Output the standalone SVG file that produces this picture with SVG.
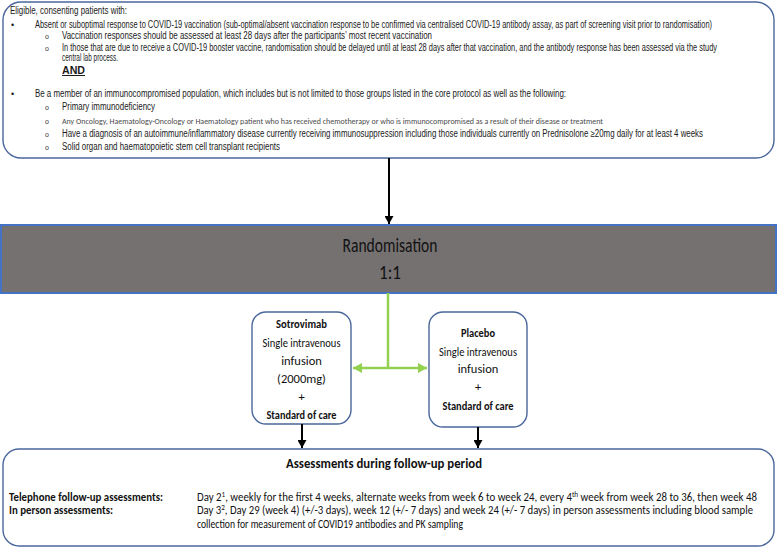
<svg xmlns="http://www.w3.org/2000/svg" width="777" height="549" viewBox="0 0 777 549">
<style>
.box{fill:#fff;stroke:#4a679c;stroke-width:1.4}
.t{font-family:"Liberation Sans Narrow","Liberation Sans",Arial,sans-serif;font-size:10px;fill:#1a1a1a}
.sm{font-family:Carlito,"Liberation Sans",Arial,sans-serif;font-size:8.5px;fill:#4a4a4a}
.b{font-family:"Liberation Sans",Arial,sans-serif;font-size:9px;fill:#1a1a1a}
.o{font-family:"Liberation Sans",Arial,sans-serif;font-size:7px;fill:#333}
.c{font-family:Carlito,"Liberation Sans",Arial,sans-serif;font-size:12.5px;fill:#111;text-anchor:middle}
.cb{font-family:Carlito,"Liberation Sans",Arial,sans-serif;font-size:12.5px;fill:#111;font-weight:bold;text-anchor:middle}
.r{font-family:Carlito,"Liberation Sans",Arial,sans-serif;font-size:20px;fill:#111;text-anchor:middle}
.h{font-family:Carlito,"Liberation Sans",Arial,sans-serif;font-size:14px;fill:#111;font-weight:bold}
.a{font-family:Carlito,"Liberation Sans",Arial,sans-serif;font-size:12px;fill:#111}
.ab{font-family:Carlito,"Liberation Sans",Arial,sans-serif;font-size:12px;fill:#111;font-weight:bold}
.blk{stroke:#000;stroke-width:2;fill:none}
.grn{stroke:#92d050;stroke-width:2.5;fill:none}
</style>
<defs>
<marker id="ah" markerUnits="userSpaceOnUse" markerWidth="9" markerHeight="9" refX="8" refY="4.5" orient="auto">
<path d="M0,0 L8,4.5 L0,9 Z" fill="#000"/>
</marker>
<marker id="gh" markerUnits="userSpaceOnUse" markerWidth="10" markerHeight="10" refX="9" refY="5" orient="auto-start-reverse">
<path d="M0,0 L9,5 L0,10 Z" fill="#92d050"/>
</marker>
</defs>

<g id="eligibility">
<rect class="box" x="3" y="2" width="771" height="156" rx="18"/>
<text class="t" x="10" y="14" textLength="117" lengthAdjust="spacingAndGlyphs">Eligible, consenting patients with:</text>
<text class="b" x="11" y="28">•</text>
<text class="t" x="35" y="28" textLength="677" lengthAdjust="spacingAndGlyphs">Absent or suboptimal response to COVID-19 vaccination (sub-optimal/absent vaccination response to be confirmed via centralised COVID-19 antibody assay, as part of screening visit prior to randomisation)</text>
<text class="o" x="45" y="39">o</text>
<text class="t" x="62" y="39" textLength="370" lengthAdjust="spacingAndGlyphs">Vaccination responses should be assessed at least 28 days after the participants’ most recent vaccination</text>
<text class="o" x="45" y="51">o</text>
<text class="t" x="62" y="51" textLength="655" lengthAdjust="spacingAndGlyphs">In those that are due to receive a COVID-19 booster vaccine, randomisation should be delayed until at least 28 days after that vaccination, and the antibody response has been assessed via the study</text>
<text class="t" x="62" y="61" textLength="56" lengthAdjust="spacingAndGlyphs">central lab process.</text>
<text class="t" x="62" y="74" font-weight="bold" text-decoration="underline" textLength="23" lengthAdjust="spacingAndGlyphs">AND</text>
<text class="b" x="11" y="97">•</text>
<text class="t" x="35" y="97" textLength="531" lengthAdjust="spacingAndGlyphs">Be a member of an immunocompromised  population, which includes but is not limited to those groups listed in the core protocol as well as the following:</text>
<text class="o" x="45" y="110">o</text>
<text class="t" x="62" y="110" textLength="93" lengthAdjust="spacingAndGlyphs">Primary immunodeficiency</text>
<text class="o" x="45" y="124">o</text>
<text class="sm" x="62" y="124" textLength="541" lengthAdjust="spacingAndGlyphs">Any Oncology, Haematology-Oncology or Haematology patient who has received chemotherapy or who is immunocompromised as a result of their disease or treatment</text>
<text class="o" x="45" y="137">o</text>
<text class="t" x="62" y="137" textLength="641" lengthAdjust="spacingAndGlyphs">Have a diagnosis of an autoimmune/inflammatory  disease currently receiving immunosuppression including those individuals currently on Prednisolone ≥20mg daily for at least 4 weeks</text>
<text class="o" x="45" y="150">o</text>
<text class="t" x="62" y="150" textLength="218" lengthAdjust="spacingAndGlyphs">Solid organ and haematopoietic stem cell transplant recipients</text>
</g>

<g id="randomisation">
<rect x="1" y="225" width="775" height="68" fill="#767171" stroke="#4472c4" stroke-width="2"/>
<text class="r" x="390" y="252" textLength="95" lengthAdjust="spacingAndGlyphs">Randomisation</text>
<text class="r" x="390" y="279" textLength="22" lengthAdjust="spacingAndGlyphs">1:1</text>
</g>

<g id="sotrovimab">
<rect class="box" x="252" y="312" width="99" height="112" rx="14"/>
<text class="cb" x="301.5" y="328" textLength="51" lengthAdjust="spacingAndGlyphs">Sotrovimab</text>
<text class="c" x="301.5" y="347" textLength="78" lengthAdjust="spacingAndGlyphs">Single intravenous</text>
<text class="c" x="301.5" y="365">infusion</text>
<text class="c" x="301.5" y="383">(2000mg)</text>
<text class="c" x="301.5" y="401">+</text>
<text class="cb" x="301.5" y="419" textLength="70" lengthAdjust="spacingAndGlyphs">Standard of care</text>
</g>

<g id="placebo">
<rect class="box" x="429" y="312" width="98" height="115" rx="14"/>
<text class="cb" x="478" y="337" textLength="34" lengthAdjust="spacingAndGlyphs">Placebo</text>
<text class="c" x="478" y="356" textLength="78" lengthAdjust="spacingAndGlyphs">Single intravenous</text>
<text class="c" x="478" y="373">infusion</text>
<text class="c" x="478" y="391">+</text>
<text class="cb" x="478" y="410" textLength="71" lengthAdjust="spacingAndGlyphs">Standard of care</text>
</g>

<g id="assessments">
<rect class="box" x="3" y="449" width="771" height="97" rx="16"/>
<text class="h" x="286" y="468" textLength="196" lengthAdjust="spacingAndGlyphs">Assessments during follow-up period</text>
<text class="ab" x="9" y="501" textLength="154" lengthAdjust="spacingAndGlyphs">Telephone follow-up assessments:</text>
<text class="ab" x="9" y="514" textLength="104" lengthAdjust="spacingAndGlyphs">In person assessments:</text>
<text class="a" x="197" y="501" textLength="560" lengthAdjust="spacingAndGlyphs">Day 2<tspan font-size="8" dy="-4">1</tspan><tspan dy="4">, weekly for the first 4 weeks, alternate weeks from week 6 to week 24, every 4</tspan><tspan font-size="8" dy="-4">th</tspan><tspan dy="4"> week from week 28 to 36, then week 48</tspan></text>
<text class="a" x="197" y="514" textLength="556" lengthAdjust="spacingAndGlyphs">Day 3<tspan font-size="8" dy="-4">2</tspan><tspan dy="4">, Day 29 (week 4) (+/-3 days), week 12 (+/- 7 days) and week 24 (+/- 7 days) in person assessments  including blood sample</tspan></text>
<text class="a" x="197" y="528" textLength="266" lengthAdjust="spacingAndGlyphs">collection for measurement of COVID19 antibodies and PK sampling</text>
</g>

<g id="connectors">
<line class="blk" x1="389" y1="158" x2="389" y2="224" marker-end="url(#ah)"/>
<line class="grn" x1="388" y1="293" x2="388" y2="368"/>
<line class="grn" x1="353" y1="368" x2="427" y2="368" marker-start="url(#gh)" marker-end="url(#gh)"/>
<line class="blk" x1="302" y1="424" x2="302" y2="448" marker-end="url(#ah)"/>
<line class="blk" x1="478" y1="427" x2="478" y2="448" marker-end="url(#ah)"/>
</g>
</svg>
